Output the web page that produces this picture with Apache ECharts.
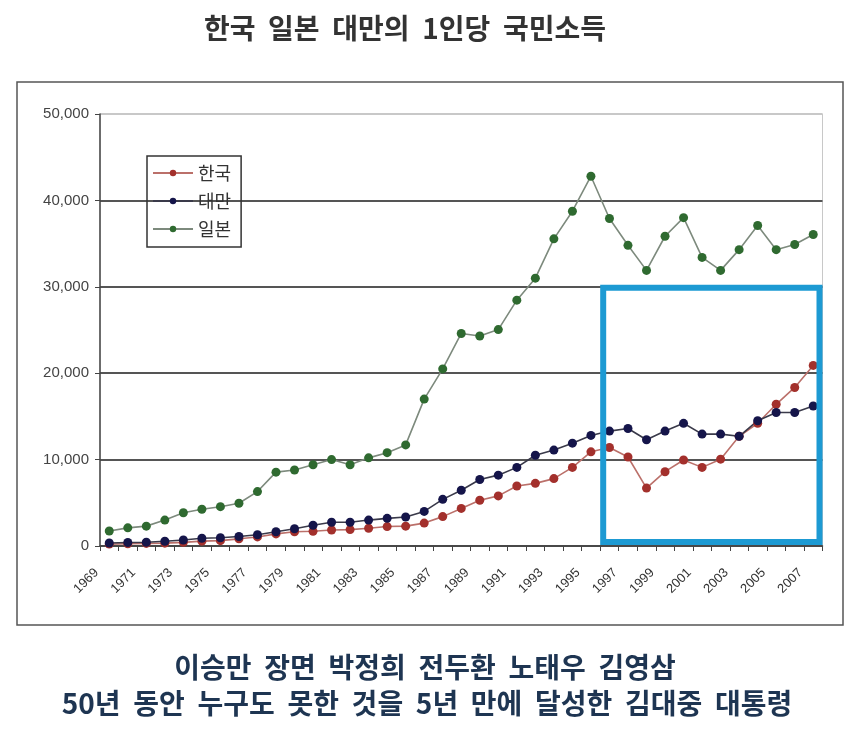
<!DOCTYPE html>
<html><head><meta charset="utf-8">
<script src="https://cdn.jsdelivr.net/npm/echarts@6/dist/echarts.min.js"></script>
<style>html,body{margin:0;padding:0;background:#fff}#c{width:850px;height:733px}</style>
</head><body><div id="c"></div>
<script>
const years = ['1969','1970','1971','1972','1973','1974','1975','1976','1977','1978','1979','1980','1981','1982','1983','1984','1985','1986','1987','1988','1989','1990','1991','1992','1993','1994','1995','1996','1997','1998','1999','2000','2001','2002','2003','2004','2005','2006','2007'];
const korea = [220,260,300,330,420,560,620,830,1050,1400,1650,1700,1850,1900,2050,2250,2300,2650,3400,4350,5300,5800,6950,7250,7800,9100,10900,11400,10300,6700,8600,9950,9100,10050,12700,14200,16400,18350,20900];
const taiwan = [350,400,430,550,700,900,950,1100,1300,1650,2000,2400,2750,2750,3000,3200,3350,4000,5400,6450,7700,8200,9100,10500,11100,11900,12800,13300,13600,12300,13300,14200,12950,12950,12700,14500,15450,15450,16200];
const japan = [1730,2100,2300,3000,3850,4250,4550,4950,6300,8550,8800,9400,10000,9400,10200,10800,11700,17000,20500,24600,24300,25050,28450,31000,35550,38750,42800,37900,34800,31900,35850,38000,33400,31900,34300,37100,34300,34900,36050];
const seriesNames = ['한국','대만','일본'];
const titleText = '한국  일본  대만의  1인당  국민소득';
const captionLine1 = '이승만  장면  박정희  전두환  노태우  김영삼';
const captionLine2 = '50년  동안  누구도  못한  것을  5년  만에  달성한  김대중  대통령';
const boxFromYear = '1996', boxToYear = '2007', boxTopValue = 30000;

const FONT = '"Liberation Sans", "Noto Sans CJK KR", sans-serif';
const KFONT = '"Noto Sans CJK KR", sans-serif';
const chart = echarts.init(document.getElementById('c'), null, {renderer:'canvas'});

function mkSeries(name, data, lineColor, dotColor){
  return {name, type:'line', data, symbol:'circle', symbolSize:9, showSymbol:true,
    lineStyle:{color:lineColor, width:1.6}, itemStyle:{color:dotColor}, emphasis:{disabled:true}, animation:false};
}

chart.setOption({
  animation:false,
  backgroundColor:'#fff',
  title:{text:titleText, left:400, textAlign:'center', top:9,
    textStyle:{fontSize:28, fontWeight:'bold', color:'#333', fontFamily:KFONT}},
  grid:{left:100, right:27.5, top:114, bottom:187, show:true, borderColor:'#c8c8c8', borderWidth:1, containLabel:false},
  legend:{orient:'vertical', left:147, top:156, itemWidth:40, itemHeight:8, itemGap:10,
    padding:[8,10,9,5], borderColor:'#333', borderWidth:1.5, data:seriesNames,
    textStyle:{fontSize:18, color:'#333', fontFamily:KFONT}},
  xAxis:{type:'category', data:years, boundaryGap:true,
    axisLine:{lineStyle:{color:'#444', width:1.5}},
    axisTick:{show:true, interval:0, alignWithLabel:false, length:5, lineStyle:{color:'#444'}},
    axisLabel:{interval:1, rotate:45, fontSize:13, color:'#333', fontFamily:FONT, margin:12, padding:[0,18,0,0]}},
  yAxis:{type:'value', min:0, max:50000, interval:10000,
    axisLine:{show:true, lineStyle:{color:'#444', width:1.5}},
    axisTick:{show:true, length:5, lineStyle:{color:'#444'}},
    axisLabel:{fontSize:15, color:'#444', fontFamily:FONT, margin:11,
      formatter:v=>v.toLocaleString('en-US')},
    splitLine:{show:true, lineStyle:{color:['#555','#555','#555','#555','#555','#c8c8c8'], width:2}}},
  series:[
    mkSeries('한국', korea, '#bb706a', '#a3302c'),
    mkSeries('대만', taiwan, '#3a3a4a', '#15154a'),
    mkSeries('일본', japan, '#7d8a7d', '#2f6a30')
  ]
});

const p0 = chart.convertToPixel({xAxisIndex:0}, boxFromYear);
const p1 = chart.convertToPixel({xAxisIndex:0}, years[years.indexOf(boxFromYear)+1]);
const bw = p1 - p0;
const pL = p0 - bw/2;
const pR = chart.convertToPixel({xAxisIndex:0}, boxToYear) + bw/2;
const pT = chart.convertToPixel({yAxisIndex:0}, boxTopValue);
const pB = chart.convertToPixel({yAxisIndex:0}, 0);
const lw = 6;

chart.setOption({
  graphic:[
    {type:'rect', id:'frame', z:-1, silent:true, shape:{x:17, y:82, width:826, height:543},
      style:{fill:null, stroke:'#555', lineWidth:1.5}},
    {type:'rect', id:'box', z:100, silent:true,
      shape:{x:pL+lw/2, y:pT+lw/2-2, width:pR-pL-lw, height:pB-pT-lw+1},
      style:{fill:null, stroke:'#1d9ad3', lineWidth:lw}},
    {type:'text', id:'cap1', silent:true, x:425, y:667,
      style:{text:captionLine1, fill:'#1e3552', font:'bold 28px "Noto Sans CJK KR", sans-serif', textAlign:'center', textVerticalAlign:'middle'}},
    {type:'text', id:'cap2', silent:true, x:427, y:703,
      style:{text:captionLine2, fill:'#1e3552', font:'bold 28px "Noto Sans CJK KR", sans-serif', textAlign:'center', textVerticalAlign:'middle'}}
  ]
});
</script></body></html>
